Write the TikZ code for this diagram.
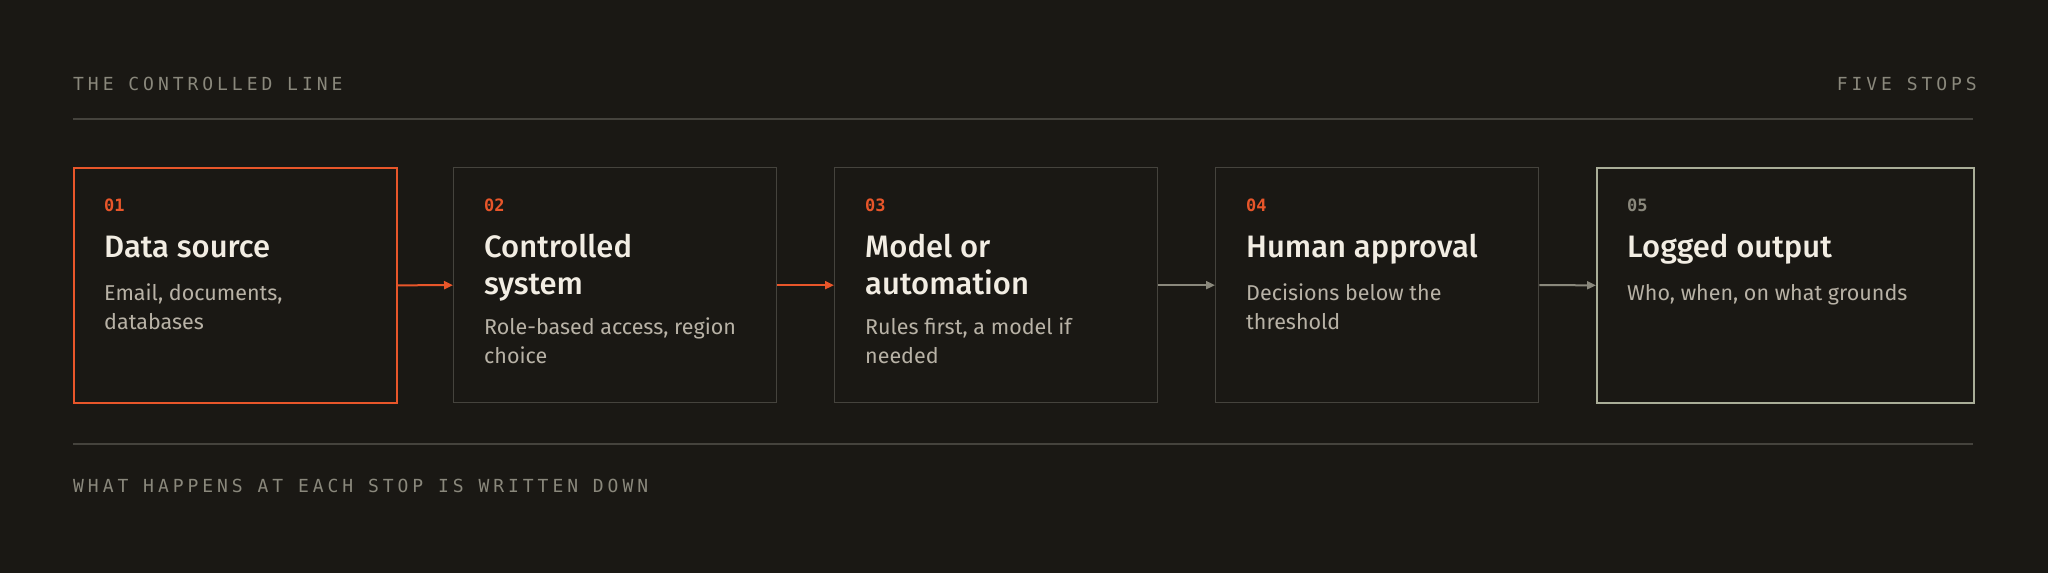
\documentclass[tikz,border=0pt]{standalone}
\usepackage{fontspec}
\setmainfont{Fira Sans}
\newfontfamily\titlef{Fira Sans Medium}
\newfontfamily\monof[LetterSpace=22]{DejaVu Sans Mono}
\newfontfamily\numf{DejaVu Sans Mono Bold}
\usetikzlibrary{arrows.meta,positioning}

\definecolor{bg}{HTML}{1A1814}
\definecolor{rust}{HTML}{E8562A}
\definecolor{edge}{HTML}{45433D}
\definecolor{sage}{HTML}{A9AD98}
\definecolor{ink}{HTML}{F2EDE3}
\definecolor{muted}{HTML}{B8B2A6}
\definecolor{dim}{HTML}{8A887C}

\tikzset{
  stop/.style = {rectangle, draw = edge, line width = 1.3pt, fill = bg,
                 minimum width = 323pt, minimum height = 235pt, anchor = north west},
  num/.style = {anchor = base west, inner sep = 0, font = \numf\fontsize{17}{17}\selectfont},
  ttl/.style = {anchor = base west, inner sep = 0, text = ink,
                font = \titlef\fontsize{31}{31}\selectfont},
  dsc/.style = {anchor = base west, inner sep = 0, text = muted,
                font = \fontsize{21.5}{21.5}\selectfont},
  label/.style = {inner sep = 0, text = dim, font = \monof\fontsize{18}{18}\selectfont},
  link/.style = {-{Triangle[length=9pt,width=8pt]}, line width = 2pt}
}

\begin{document}
\begin{tikzpicture}[x=1pt,y=-1pt]
  \fill[bg] (0,0) rectangle (2048,573);
  \useasboundingbox (0,0) rectangle (2048,573);

  % header and rules
  \node[label, anchor = base west] (head) at (73,90) {THE CONTROLLED LINE};
  \node[label, anchor = base east] (count) at (1977,90) {FIVE STOPS};
  \draw[edge, line width = 1.3pt] (73,119) -- (1973,119);
  \draw[edge, line width = 1.3pt] (73,444) -- (1973,444);
  \node[label, anchor = base west] (foot) at (73,492) {WHAT HAPPENS AT EACH STOP IS WRITTEN DOWN};

  % stops
  \node[stop, draw = rust, line width = 1.6pt] (s1) at (73,167) {};
  \node[stop] (s2) at (453,167) {};
  \node[stop] (s3) at (834,167) {};
  \node[stop] (s4) at (1215,167) {};
  \node[stop, draw = sage, minimum width = 377pt, line width = 1.6pt] (s5) at (1596,167) {};

  % stop 1
  \node[num, text = rust] (s1n) at (104,211) {01};
  \node[ttl] (s1t) at (104,257) {Data source};
  \node[dsc] (s1d) at (104,300) {Email, documents,};
  \node[dsc] (s1e) at (104,329) {databases};

  % stop 2
  \node[num, text = rust] (s2n) at (484,211) {02};
  \node[ttl] (s2t) at (484,257) {Controlled};
  \node[ttl] (s2u) at (484,294) {system};
  \node[dsc] (s2d) at (484,334) {Role-based access, region};
  \node[dsc] (s2e) at (484,363) {choice};

  % stop 3
  \node[num, text = rust] (s3n) at (865,211) {03};
  \node[ttl] (s3t) at (865,257) {Model or};
  \node[ttl] (s3u) at (865,294) {automation};
  \node[dsc] (s3d) at (865,334) {Rules first, a model if};
  \node[dsc] (s3e) at (865,363) {needed};

  % stop 4
  \node[num, text = rust] (s4n) at (1246,211) {04};
  \node[ttl] (s4t) at (1246,257) {Human approval};
  \node[dsc] (s4d) at (1246,300) {Decisions below the};
  \node[dsc] (s4e) at (1246,329) {threshold};

  % stop 5
  \node[num, text = dim] (s5n) at (1627,211) {05};
  \node[ttl] (s5t) at (1627,257) {Logged output};
  \node[dsc] (s5d) at (1627,300) {Who, when, on what grounds};

  % links
  \draw[link, rust] (s1.east) -- (s2.west);
  \draw[link, rust] (s2.east) -- (s3.west);
  \draw[link, dim] (s3.east) -- (s4.west);
  \draw[link, dim] (s4.east) -- (s5.west);
\end{tikzpicture}
\end{document}
